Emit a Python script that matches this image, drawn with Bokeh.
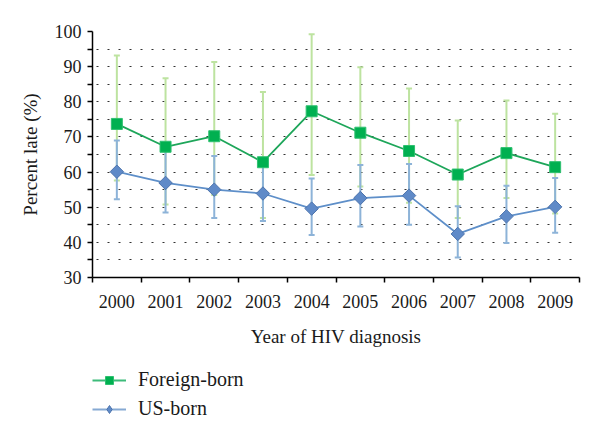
import numpy as np
from bokeh.plotting import figure
from bokeh.layouts import column
from bokeh.models import (Range1d, FixedTicker, Legend, LegendItem, Whisker, TeeHead,
                          ColumnDataSource)
from bokeh.embed import file_html
from bokeh.resources import INLINE

years = ["2000", "2001", "2002", "2003", "2004", "2005", "2006", "2007", "2008", "2009"]
foreign = [73.7, 67.2, 70.2, 62.8, 77.3, 71.2, 66.0, 59.3, 65.4, 61.4]
foreign_hi = [93.2, 86.7, 91.3, 82.8, 99.2, 89.8, 83.8, 74.7, 80.4, 76.6]
foreign_lo = [57.6, 50.8, 53.5, 46.9, 59.2, 55.9, 51.3, 46.9, 52.6, 48.2]
us = [60.1, 56.9, 55.0, 53.9, 49.6, 52.6, 53.3, 42.4, 47.4, 50.1]
us_hi = [69.0, 66.5, 64.6, 62.5, 58.2, 62.0, 62.3, 50.3, 56.1, 58.3]
us_lo = [52.3, 48.5, 46.9, 46.1, 42.1, 44.5, 45.0, 35.7, 39.8, 42.7]
y_ticks = [30, 40, 50, 60, 70, 80, 90, 100]
y_minor = [35, 45, 55, 65, 75, 85, 95]
series_names = ["Foreign-born", "US-born"]

FONT = "Liberation Serif"
GREEN_LINE, GREEN_FILL, GREEN_EDGE, GREEN_ERR = "#1ea65a", "#00b050", "#2fc070", "#bde3a0"
BLUE_LINE, BLUE_FILL, BLUE_EDGE, BLUE_ERR = "#5e8fc9", "#5f8ac8", "#4d74ad", "#8db3d8"

xpos = np.arange(len(years)) + 0.5
src_f = ColumnDataSource(dict(x=xpos, y=foreign, hi=foreign_hi, lo=foreign_lo))
src_u = ColumnDataSource(dict(x=xpos, y=us, hi=us_hi, lo=us_lo))

p = figure(width=600, height=360, output_backend="svg", toolbar_location=None,
           x_range=Range1d(0, len(years)), y_range=Range1d(30, 100),
           min_border_left=92, min_border_right=21, min_border_top=31, min_border_bottom=83)
p.outline_line_color = None

# axes
p.xaxis.ticker = FixedTicker(ticks=list(xpos), minor_ticks=list(np.arange(len(years) + 1)))
p.xaxis.major_label_overrides = {float(x): y for x, y in zip(xpos, years)}
p.xaxis.major_tick_line_color = None
p.xaxis.minor_tick_line_color = "black"
p.xaxis.minor_tick_out = 5
p.xaxis.minor_tick_in = 0
p.xaxis.minor_tick_line_width = 1.5
p.xaxis.axis_label = "Year of HIV diagnosis"

p.yaxis.ticker = FixedTicker(ticks=y_ticks, minor_ticks=y_minor)
p.yaxis.major_tick_out = 5
p.yaxis.major_tick_in = 0
p.yaxis.minor_tick_out = 5
p.yaxis.minor_tick_in = 0
p.yaxis.minor_tick_line_width = 1.5
p.yaxis.minor_tick_line_color = "black"
p.yaxis.axis_label = "Percent late (%)"

for ax in (p.xaxis[0], p.yaxis[0]):
    ax.axis_line_color = "black"
    ax.axis_line_width = 1.5
    ax.major_tick_line_width = 1.5
    ax.major_label_text_font = FONT
    ax.major_label_text_font_size = "18px"
    ax.major_label_text_color = "#1a1a1a"
    ax.axis_label_text_font = FONT
    ax.axis_label_text_font_size = "19px"
    ax.axis_label_text_font_style = "normal"
    ax.axis_label_text_color = "#1a1a1a"
p.xaxis.major_label_standoff = 11
p.xaxis.axis_label_standoff = 15
p.yaxis.major_label_standoff = 6
p.yaxis.axis_label_standoff = 11

p.xgrid.grid_line_color = None
p.ygrid.ticker = FixedTicker(ticks=y_ticks, minor_ticks=y_minor)
p.ygrid.grid_line_color = "#333333"
p.ygrid.grid_line_dash = "2 9"
p.ygrid.grid_line_dash_offset = 7
p.ygrid.grid_line_width = 1.2
p.ygrid.minor_grid_line_color = "#333333"
p.ygrid.minor_grid_line_dash = "2 9"
p.ygrid.minor_grid_line_dash_offset = 7
p.ygrid.minor_grid_line_width = 1.2

# error bars
def whisker(src, color):
    return Whisker(base="x", upper="hi", lower="lo", source=src, level="underlay",
                   line_color=color, line_width=2,
                   upper_head=TeeHead(size=6, line_color=color, line_width=2),
                   lower_head=TeeHead(size=6, line_color=color, line_width=2))

p.add_layout(whisker(src_f, GREEN_ERR))
p.add_layout(whisker(src_u, BLUE_ERR))

# series
def draw_series(fig, src, line_color, marker, angle, size, fill, edge):
    l = fig.line("x", "y", source=src, line_color=line_color, line_width=1.8)
    s = fig.scatter("x", "y", source=src, marker=marker, angle=angle, size=size,
                    fill_color=fill, line_color=edge, line_width=1)
    return l, s

draw_series(p, src_f, GREEN_LINE, "square", 0.0, 11, GREEN_FILL, GREEN_EDGE)
draw_series(p, src_u, BLUE_LINE, "square", np.pi / 4, 9.5, BLUE_FILL, BLUE_EDGE)

# legend strip below the chart: same series drawn out of view, only the legend shows
q = figure(width=600, height=63, output_backend="svg", toolbar_location=None,
           x_range=Range1d(0, len(years)), y_range=Range1d(0, 1), min_border=0,
           x_axis_location=None, y_axis_location=None)
q.outline_line_color = None
q.grid.grid_line_color = None
qf = draw_series(q, src_f, "#3dbb7a", "square", 0.0, 8.5, GREEN_FILL, GREEN_EDGE)
qu = draw_series(q, src_u, "#86a9d3", "diamond", 0.0, 14, BLUE_FILL, BLUE_EDGE)

legend = Legend(items=[LegendItem(label=series_names[0], renderers=list(qf)),
                       LegendItem(label=series_names[1], renderers=list(qu))],
                location=(0, 3), orientation="vertical",
                border_line_color=None, background_fill_alpha=0,
                padding=0, margin=0, spacing=6,
                glyph_width=34, glyph_height=20, label_height=20,
                label_standoff=12)
legend.label_text_font = "Liberation Serif, serif"
legend.label_text_font_style = "normal"
legend.label_text_font_size = "20px"
legend.label_text_color = "#1a1a1a"
q.add_layout(legend, "center")

layout = column(p, q, spacing=0)
open("out.html", "w").write(file_html(layout, INLINE))
